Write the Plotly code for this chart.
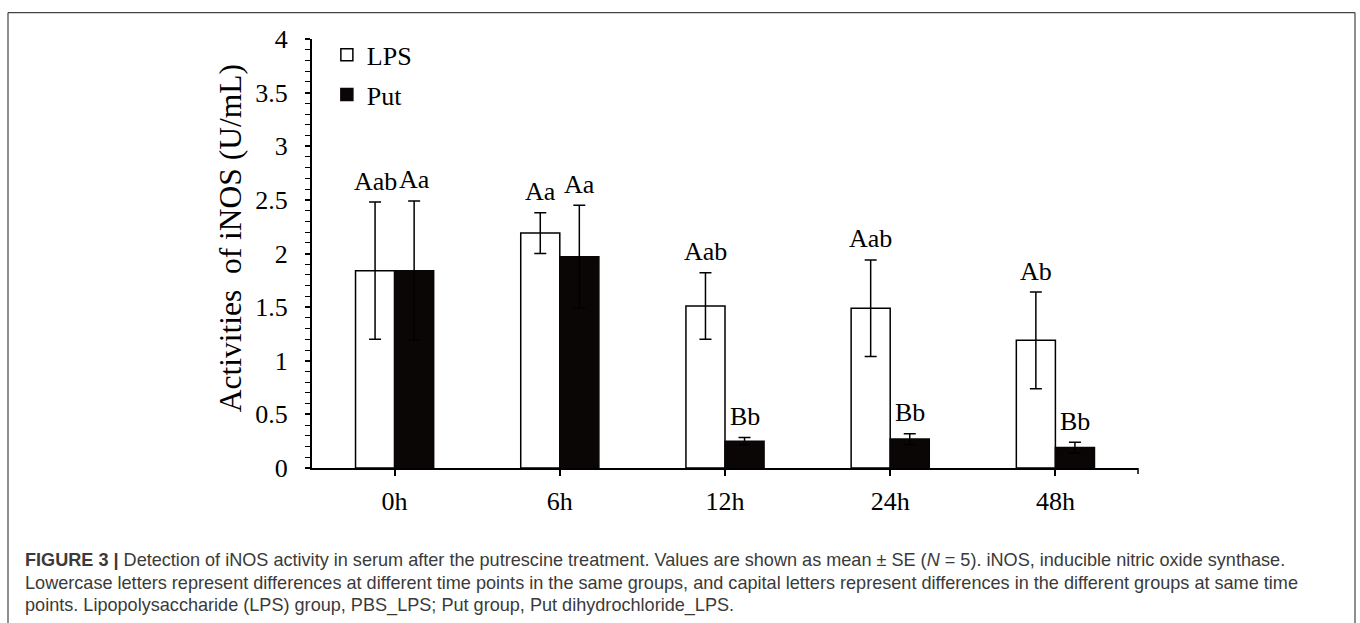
import plotly.graph_objects as go

categories = ["0h", "6h", "12h", "24h", "48h"]
lps_values = [1.84, 2.19, 1.51, 1.49, 1.19]
lps_errors = [0.64, 0.19, 0.31, 0.45, 0.45]
put_values = [1.84, 1.97, 0.25, 0.27, 0.19]
put_errors = [0.65, 0.48, 0.035, 0.05, 0.05]
lps_letters = ["Aab", "Aa", "Aab", "Aab", "Ab"]
put_letters = ["Aa", "Aa", "Bb", "Bb", "Bb"]
y_ticks = [0, 0.5, 1, 1.5, 2, 2.5, 3, 3.5, 4]
y_tick_text = ["0", "0.5", "1", "1.5", "2", "2.5", "3", "3.5", "4"]
y_title = "Activities  of iNOS (U/mL)"
caption_lines = [
    "<b>FIGURE 3 |</b> Detection of iNOS activity in serum after the putrescine treatment. Values are shown as mean ± SE (<i>N</i> = 5). iNOS, inducible nitric oxide synthase.",
    "Lowercase letters represent differences at different time points in the same groups, and capital letters represent differences in the different groups at same time",
    "points. Lipopolysaccharide (LPS) group, PBS_LPS; Put group, Put dihydrochloride_LPS.",
]

W, H = 1360, 623
L, R, T, B = 312, 222, 38.5, 155
plot_w = W - L - R
plot_h = H - T - B


def px_x(px):
    return (px - L) / plot_w


def px_y(py):
    return (H - B - py) / plot_h


SERIF = "Liberation Serif, Times New Roman, serif"
SANS = "Liberation Sans, Arial, Helvetica, sans-serif"

fig = go.Figure()
fig.add_trace(go.Bar(
    name="LPS", x=categories, y=lps_values, legendgroup="g1",
    marker=dict(color="white", line=dict(color="black", width=1.5)),
    error_y=dict(type="data", array=lps_errors, color="black", thickness=1.5, width=6),
))
fig.add_trace(go.Bar(
    name="Put", x=categories, y=put_values, legendgroup="g2",
    marker=dict(color="#0a0606", line=dict(color="#0a0606", width=1.5)),
    error_y=dict(type="data", array=put_errors, color="black", thickness=1.5, width=6),
))

annotations = []
for c, v, e, t in zip(categories, lps_values, lps_errors, lps_letters):
    annotations.append(dict(x=c, y=v + e, xref="x", yref="y", text=t, showarrow=False,
                            xshift=-19.5, yshift=21, yanchor="middle",
                            font=dict(family=SERIF, size=26, color="black")))
for c, v, e, t in zip(categories, put_values, put_errors, put_letters):
    annotations.append(dict(x=c, y=v + e, xref="x", yref="y", text=t, showarrow=False,
                            xshift=19.5, yshift=21, yanchor="middle",
                            font=dict(family=SERIF, size=26, color="black")))

# y-axis title
annotations.append(dict(x=px_x(230), y=px_y(238), xref="paper", yref="paper", text=y_title,
                        textangle=-90, showarrow=False, xanchor="center", yanchor="middle",
                        font=dict(family=SERIF, size=31.5, color="black")))

cap_y = [560, 583, 606]
for line, py in zip(caption_lines, cap_y):
    annotations.append(dict(x=px_x(23), y=px_y(py), xref="paper", yref="paper",
                            text=line, showarrow=False, xanchor="left", yanchor="middle",
                            font=dict(family=SANS, size=18.1, color="#3a3a3a")))

shapes = [
    # outer figure frame (top, left, right)
    dict(type="line", xref="paper", yref="paper",
         x0=px_x(8), x1=px_x(1355), y0=px_y(12), y1=px_y(12),
         line=dict(color="#444444", width=1.2)),
    dict(type="line", xref="paper", yref="paper",
         x0=px_x(8), x1=px_x(8), y0=px_y(12), y1=px_y(640),
         line=dict(color="#444444", width=1.2)),
    dict(type="line", xref="paper", yref="paper",
         x0=px_x(1355), x1=px_x(1355), y0=px_y(12), y1=px_y(640),
         line=dict(color="#444444", width=1.2)),
    # end tick of the x axis
    dict(type="line", xref="paper", yref="paper", x0=1, x1=1, y0=0, y1=-6 / plot_h,
         line=dict(color="black", width=1.5)),
]

fig.update_layout(
    width=W, height=H,
    margin=dict(l=L, r=R, t=T, b=B, pad=0),
    paper_bgcolor="white", plot_bgcolor="white",
    barmode="group", bargap=0.527, bargroupgap=0,
    font=dict(family=SERIF, color="black"),
    showlegend=True,
    legend=dict(x=0.018, y=1.018, xanchor="left", yanchor="top",
                font=dict(family=SERIF, size=26, color="black"),
                bgcolor="rgba(0,0,0,0)", tracegroupgap=3, itemclick=False),
    annotations=annotations,
    shapes=shapes,
    xaxis=dict(
        showline=True, linecolor="black", linewidth=2,
        ticks="outside", ticklen=6, tickwidth=1.5, tickcolor="black",
        tickfont=dict(family=SERIF, size=26, color="black"),
        ticklabelstandoff=3,
        showgrid=False, zeroline=False,
    ),
    yaxis=dict(
        range=[0, 4], showline=True, linecolor="black", linewidth=2,
        tickvals=y_ticks, ticktext=y_tick_text,
        ticks="outside", ticklen=5, tickwidth=1.5, tickcolor="black",
        tickfont=dict(family=SERIF, size=26, color="black"),
        ticklabelstandoff=12,
        minor=dict(dtick=0.1, ticks="outside", ticklen=5, tickwidth=1.2, tickcolor="black", showgrid=False),
        showgrid=False, zeroline=False,
    ),
)

fig.write_html("out.html")
